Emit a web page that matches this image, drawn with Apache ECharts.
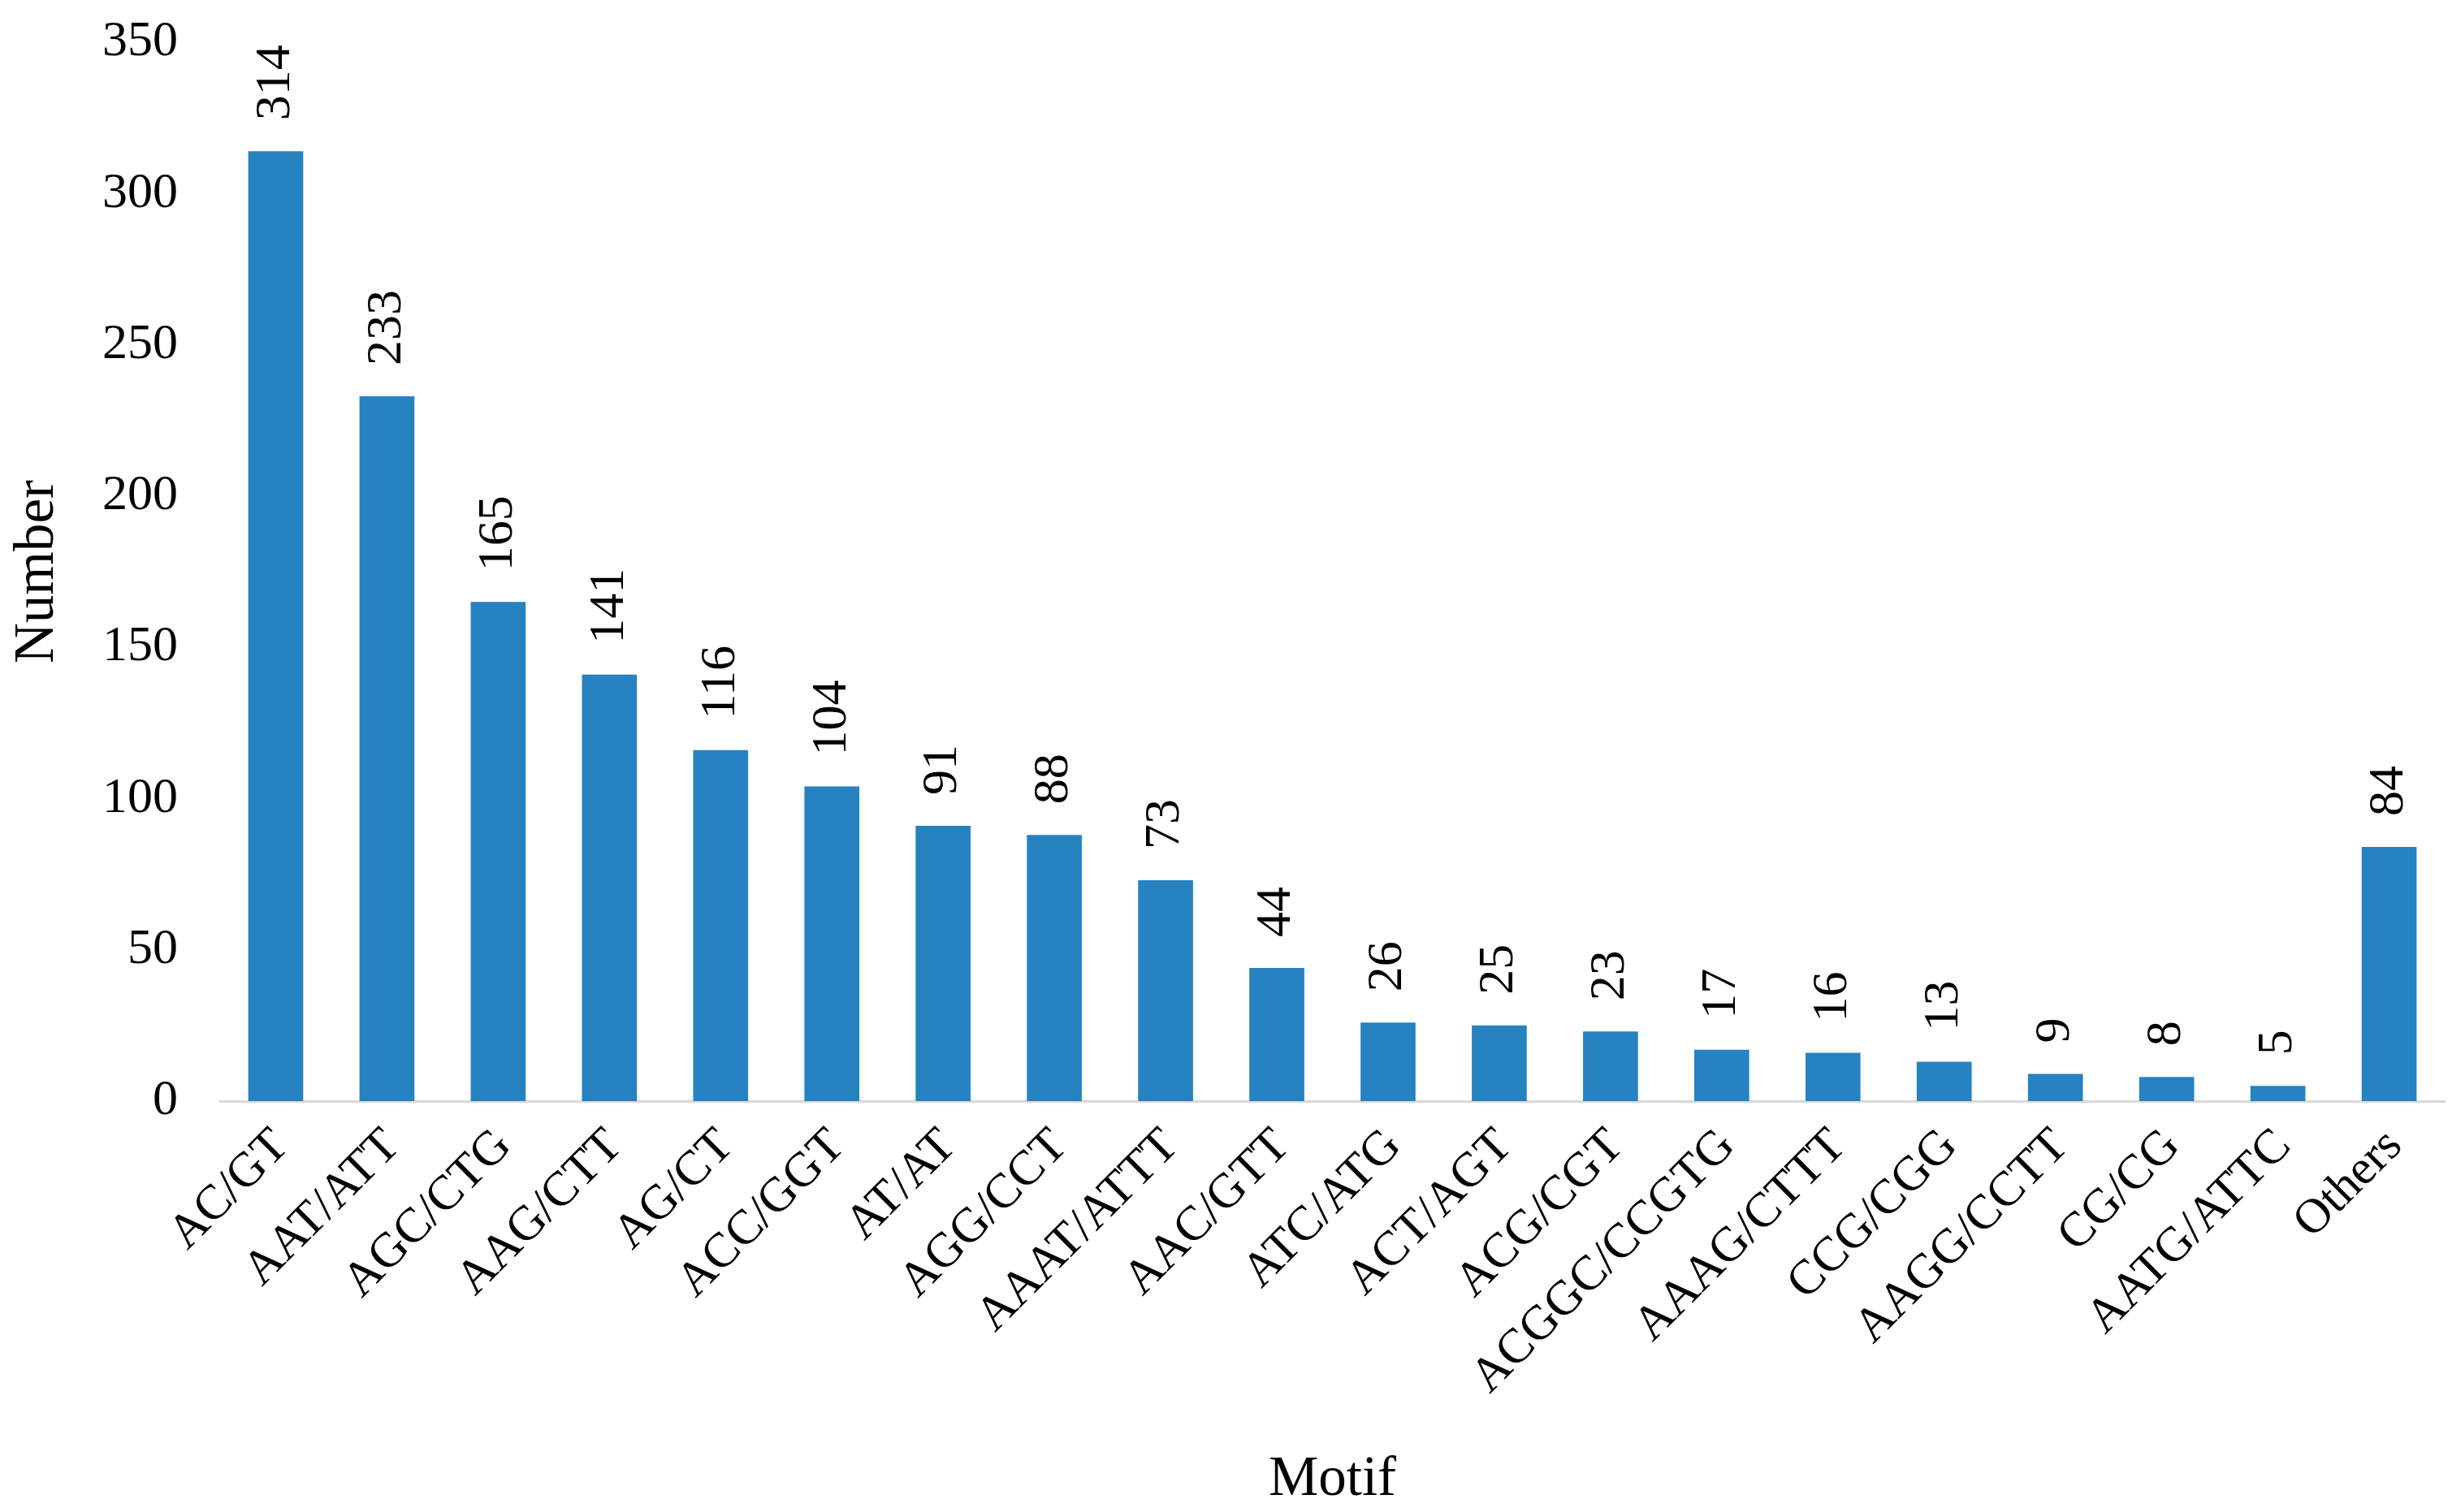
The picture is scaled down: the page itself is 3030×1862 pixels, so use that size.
<!DOCTYPE html>
<html>
<head>
<meta charset="utf-8">
<script src="https://cdn.jsdelivr.net/npm/echarts@6/dist/echarts.min.js"></script>
<style>
  html, body { margin: 0; padding: 0; background: #ffffff; }
  #chart { width: 3030px; height: 1862px; }
</style>
</head>
<body>
<div id="chart"></div>
<script>
const categories = ['AC/GT', 'AAT/ATT', 'AGC/CTG', 'AAG/CTT', 'AG/CT', 'ACC/GGT', 'AT/AT', 'AGG/CCT', 'AAAT/ATTT', 'AAC/GTT', 'ATC/ATG', 'ACT/AGT', 'ACG/CGT', 'ACGGC/CCGTG', 'AAAG/CTTT', 'CCG/CGG', 'AAGG/CCTT', 'CG/CG', 'AATG/ATTC', 'Others'];
const values = [314, 233, 165, 141, 116, 104, 91, 88, 73, 44, 26, 25, 23, 17, 16, 13, 9, 8, 5, 84];
const yTicks = { min: 0, max: 350, interval: 50 };
const xTitle = 'Motif';
const yTitle = 'Number';

const FONT = 'Liberation Serif';
const chart = echarts.init(document.getElementById('chart'), null, { renderer: 'canvas' });
chart.setOption({
  backgroundColor: '#ffffff',
  animation: false,
  textStyle: { fontFamily: FONT, color: '#000000' },
  grid: { left: 271, right: 20, top: 52, bottom: 506, containLabel: false },
  xAxis: {
    type: 'category',
    data: categories,
    name: xTitle,
    nameLocation: 'middle',
    nameGap: 432,
    nameTextStyle: { fontFamily: FONT, fontSize: 69, color: '#000000' },
    axisLine: { show: true, lineStyle: { color: '#d9d9d9', width: 3 } },
    axisTick: { show: false },
    axisLabel: {
      interval: 0,
      rotate: 45,
      margin: 39,
      verticalAlign: 'top',
      lineHeight: 20,
      fontFamily: FONT,
      fontSize: 60,
      color: '#000000'
    },
    splitLine: { show: false }
  },
  yAxis: {
    type: 'value',
    min: yTicks.min,
    max: yTicks.max,
    interval: yTicks.interval,
    name: yTitle,
    nameLocation: 'middle',
    nameGap: 190,
    nameTextStyle: { fontFamily: FONT, fontSize: 69, color: '#000000' },
    axisLine: { show: false },
    axisTick: { show: false },
    splitLine: { show: false },
    axisLabel: { margin: 52, fontFamily: FONT, fontSize: 62, color: '#000000' }
  },
  series: [{
    type: 'bar',
    data: values,
    barWidth: '49.4%',
    itemStyle: { color: '#2682c0' },
    label: { show: false }
  }, {
    type: 'custom',
    silent: true,
    data: values.map(function (v, i) { return [i, v]; }),
    renderItem: function (params, api) {
      const pt = api.coord([api.value(0), api.value(1)]);
      return {
        type: 'text',
        x: pt[0],
        y: pt[1] - 38,
        rotation: Math.PI / 2,
        style: {
          text: String(api.value(1)),
          fontFamily: FONT,
          fontSize: 62,
          fontWeight: 'normal',
          fill: '#000000',
          align: 'left',
          verticalAlign: 'middle'
        }
      };
    }
  }]
});
</script>
</body>
</html>
